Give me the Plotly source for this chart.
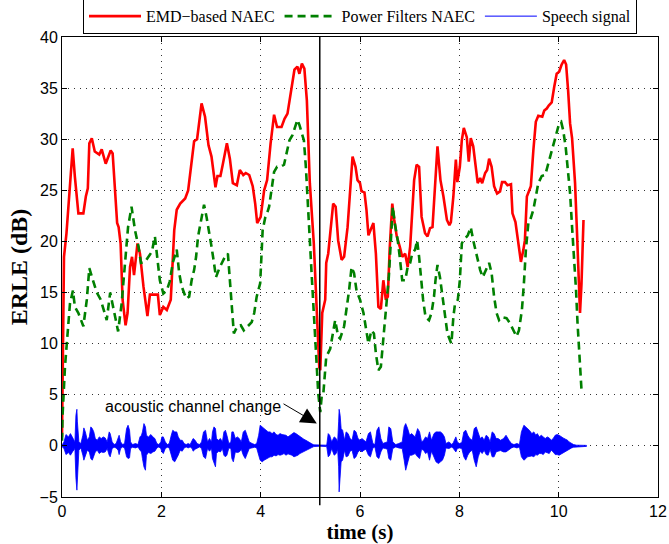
import plotly.graph_objects as go

# ---------------- data ----------------
emd_t = [0.00, 0.04, 0.09, 0.16, 0.215, 0.26, 0.33, 0.43, 0.48, 0.52, 0.55, 0.60, 0.66, 0.75, 0.80,
         0.88, 0.98, 1.02, 1.11, 1.14, 1.18, 1.22, 1.28, 1.32, 1.37, 1.41, 1.45, 1.52, 1.57, 1.64,
         1.72, 1.77, 1.87, 1.93, 1.97, 2.04, 2.11, 2.19, 2.26, 2.31, 2.38, 2.48, 2.54, 2.61, 2.66,
         2.72, 2.81, 2.88, 2.95, 3.01, 3.09, 3.13, 3.19, 3.24, 3.32, 3.38, 3.44, 3.52, 3.58, 3.65,
         3.70, 3.77, 3.84, 3.89, 3.93, 4.00, 4.07, 4.13, 4.20, 4.27, 4.33, 4.42, 4.48, 4.54, 4.62,
         4.68, 4.74, 4.78, 4.83, 4.88, 4.93, 4.99, 5.07, 5.13, 5.18, 5.20, 5.24, 5.30, 5.32, 5.36,
         5.42, 5.46, 5.51, 5.56, 5.63, 5.68, 5.75, 5.80, 5.85, 5.91, 5.95, 6.00, 6.03, 6.09, 6.13,
         6.17, 6.22, 6.27, 6.32, 6.37, 6.42, 6.47, 6.52, 6.56, 6.60, 6.65, 6.69, 6.74, 6.80, 6.85,
         6.91, 6.96, 7.01, 7.05, 7.09, 7.14, 7.19, 7.24, 7.31, 7.36, 7.41, 7.46, 7.51, 7.56, 7.62,
         7.68, 7.75, 7.80, 7.83, 7.88, 7.93, 7.96, 8.01, 8.05, 8.09, 8.15, 8.19, 8.23, 8.28, 8.33,
         8.37, 8.42, 8.46, 8.52, 8.56, 8.60, 8.65, 8.70, 8.76, 8.82, 8.86, 8.92, 8.97, 9.04, 9.07,
         9.13, 9.19, 9.24, 9.29, 9.32, 9.36, 9.40, 9.44, 9.49, 9.54, 9.59, 9.67, 9.71, 9.76, 9.80,
         9.86, 9.91, 9.96, 10.01, 10.06, 10.11, 10.15, 10.19, 10.23, 10.27, 10.33, 10.37, 10.40,
         10.43, 10.46, 10.50]
emd_erle = [0.9, 18.5, 20.8, 25.7, 29.1, 26.3, 22.75, 22.75, 24.4, 25.2, 29.6, 30.1, 28.8, 28.5, 29.0,
            27.6, 28.9, 28.6, 21.8, 21.4, 19.8, 14.3, 11.8, 13.0, 17.5, 18.5, 16.7, 19.8, 18.8, 15.6,
            12.7, 14.8, 14.8, 14.8, 12.8, 13.6, 13.3, 14.3, 21.1, 23.1, 23.7, 24.2, 25.0, 28.0, 29.8,
            30.0, 33.5, 32.2, 29.4, 28.3, 25.3, 26.4, 26.4, 27.6, 29.6, 28.1, 25.7, 25.5, 27.0, 26.5,
            26.7, 26.5, 25.4, 23.7, 21.8, 22.4, 25.0, 26.0, 29.6, 32.4, 31.2, 31.2, 32.0, 32.5, 35.1,
            36.8, 37.1, 36.4, 37.4, 36.9, 33.8, 25.7, 19.8, 13.3, 7.7, 7.4, 13.0, 14.3, 17.9, 18.8,
            21.4, 23.7, 23.4, 20.1, 18.2, 18.5, 21.4, 25.0, 28.3, 27.3, 26.0, 25.7, 24.9, 24.8, 23.1,
            20.6, 21.3, 21.8, 18.8, 13.6, 13.4, 16.2, 14.3, 14.6, 19.5, 23.7, 22.1, 20.5, 19.5, 18.5,
            18.8, 17.5, 19.5, 23.4, 26.0, 27.5, 27.3, 22.4, 20.8, 20.5, 21.3, 21.4, 25.4, 29.3, 26.0,
            24.4, 22.1, 21.6, 21.9, 24.4, 28.0, 25.8, 27.3, 29.9, 31.1, 30.2, 27.8, 30.1, 29.3, 27.3,
            25.7, 26.2, 25.7, 26.7, 27.0, 28.1, 27.3, 25.4, 24.7, 24.9, 25.8, 25.8, 25.5, 25.6, 22.75,
            21.9, 19.8, 18.0, 19.2, 20.1, 24.4, 25.0, 25.4, 28.9, 31.7, 32.3, 32.2, 32.8, 33.0, 33.3,
            33.6, 35.1, 36.4, 36.6, 37.3, 37.75, 37.3, 34.8, 31.55, 30.1, 25.7, 20.8, 17.5,
            13.0, 15.9, 22.1]

pf_t = [0.00, 0.01, 0.06, 0.11, 0.16, 0.22, 0.26, 0.33, 0.43, 0.50, 0.55, 0.63, 0.70, 0.78, 0.85,
        0.90, 0.97, 1.03, 1.09, 1.13, 1.20, 1.27, 1.33, 1.40, 1.47, 1.54, 1.59, 1.67, 1.74, 1.81,
        1.87, 1.92, 1.97, 2.04, 2.11, 2.17, 2.23, 2.31, 2.36, 2.41, 2.50, 2.56, 2.61, 2.66, 2.70,
        2.74, 2.81, 2.86, 2.91, 2.97, 3.01, 3.06, 3.10, 3.17, 3.22, 3.28, 3.34, 3.38, 3.42, 3.46,
        3.53, 3.60, 3.66, 3.75, 3.82, 3.87, 3.92, 3.99, 4.02, 4.04, 4.09, 4.13, 4.17, 4.22, 4.27,
        4.33, 4.40, 4.47, 4.52, 4.58, 4.64, 4.69, 4.74, 4.78, 4.83, 4.87, 4.91, 4.96, 4.99, 5.03,
        5.06, 5.09, 5.13, 5.16, 5.20, 5.23, 5.26, 5.32, 5.40, 5.46, 5.50, 5.56, 5.60, 5.68, 5.73,
        5.78, 5.83, 5.88, 5.93, 6.00, 6.07, 6.11, 6.17, 6.23, 6.28, 6.32, 6.37, 6.42, 6.46, 6.50,
        6.54, 6.58, 6.62, 6.66, 6.70, 6.76, 6.80, 6.85, 6.91, 6.96, 7.01, 7.05, 7.11, 7.15, 7.19,
        7.23, 7.27, 7.32, 7.39, 7.44, 7.49, 7.52, 7.56, 7.61, 7.66, 7.71, 7.76, 7.81, 7.84, 7.88,
        7.91, 7.97, 8.01, 8.05, 8.08, 8.17, 8.23, 8.28, 8.35, 8.42, 8.47, 8.53, 8.60, 8.65, 8.70,
        8.75, 8.80, 8.86, 8.95, 9.02, 9.09, 9.15, 9.20, 9.26, 9.30, 9.34, 9.39, 9.44, 9.49, 9.54,
        9.59, 9.66, 9.73, 9.79, 9.86, 9.91, 9.96, 10.01, 10.05, 10.09, 10.14, 10.18, 10.23, 10.27,
        10.31, 10.35, 10.38, 10.41, 10.44, 10.46]
pf_erle = [0.5, 2.85, 7.75, 11.3, 13.9, 15.2, 13.6, 13.0, 11.7, 14.3, 17.4, 16.1, 15.0, 14.3, 13.0,
           12.3, 15.0, 13.6, 12.1, 11.2, 13.9, 18.2, 21.4, 23.4, 21.1, 19.5, 17.9, 18.0, 18.5, 19.0,
           20.5, 18.2, 16.2, 14.9, 15.2, 16.1, 17.9, 19.2, 16.9, 15.6, 14.4, 14.6, 16.2, 17.2, 18.5,
           20.5, 22.4, 23.6, 22.4, 20.8, 19.5, 17.9, 16.5, 17.4, 17.9, 18.5, 18.8, 15.9, 13.3, 11.0,
           11.7, 11.8, 11.3, 11.7, 12.1, 13.0, 14.6, 15.9, 18.5, 21.1, 22.3, 22.75, 23.4, 25.0, 26.8,
           27.3, 27.3, 27.5, 28.6, 29.9, 30.4, 31.1, 31.9, 31.4, 30.4, 29.9, 27.3, 23.4, 20.1, 16.5,
           13.9, 11.0, 7.7, 5.1, 3.3, 4.9, 5.0, 8.7, 9.5, 11.0, 12.3, 10.7, 10.5, 11.7, 13.3,
           15.2, 17.5, 16.9, 15.2, 14.3, 13.0, 11.7, 10.0, 11.3, 11.0, 9.05, 7.4, 7.75, 9.7, 11.7,
           14.3, 16.5, 19.5, 23.4, 21.8, 20.1, 18.5, 16.2, 16.2, 17.5, 17.9, 18.8, 19.2, 20.1, 18.5,
           16.5, 14.3, 12.6, 12.3, 13.0, 14.6, 16.2, 17.7, 16.5, 14.6, 12.6, 11.0, 10.35, 10.0, 12.6,
           13.8, 14.3, 16.2, 19.8, 20.1, 20.6, 21.4, 20.1, 18.5, 17.2, 16.5, 17.2, 17.9, 16.9, 14.6,
           13.0, 12.3, 12.6, 12.5, 12.0, 11.3, 10.7, 11.3, 13.3, 15.9, 19.2, 21.8, 22.3, 23.1, 24.4,
           25.7, 26.4, 26.5, 27.6, 28.9, 29.9, 30.6, 31.55, 31.7, 30.9, 29.3, 27.0, 24.7, 21.4,
           18.5, 15.2, 12.0, 9.4, 7.4, 5.45]

# speech signal: envelope (upper / lower amplitude) read along time
speech_t = [0.00, 0.04, 0.08, 0.13, 0.17, 0.21, 0.26, 0.28, 0.30, 0.31, 0.34, 0.38, 0.42, 0.44, 0.47,
            0.51, 0.55, 0.58, 0.61, 0.64, 0.67, 0.71, 0.75, 0.79, 0.83, 0.87, 0.91, 0.95, 0.97, 1.01,
            1.05, 1.09, 1.13, 1.15, 1.18, 1.22, 1.26, 1.30, 1.33, 1.36, 1.38, 1.42, 1.48, 1.53, 1.57,
            1.60, 1.62, 1.65, 1.68, 1.70, 1.74, 1.79, 1.83, 1.87, 1.91, 1.95, 1.99, 2.01, 2.04, 2.08,
            2.12, 2.16, 2.20, 2.23, 2.27, 2.31, 2.34, 2.38, 2.42, 2.46, 2.50, 2.54, 2.58, 2.62, 2.64,
            2.68, 2.72, 2.77, 2.81, 2.85, 2.89, 2.93, 2.97, 3.01, 3.03, 3.06, 3.09, 3.11, 3.15, 3.19,
            3.23, 3.26, 3.29, 3.32, 3.36, 3.40, 3.42, 3.45, 3.49, 3.53, 3.57, 3.61, 3.65, 3.69, 3.73,
            3.77, 3.83, 3.88, 3.92, 3.96, 3.99, 4.03, 4.07, 4.11, 4.15, 4.19, 4.23, 4.27, 4.31, 4.35,
            4.39, 4.43, 4.47, 4.51, 4.55, 4.59, 4.63, 4.67, 4.71, 4.75, 4.79, 4.83, 4.87, 4.91, 4.95,
            4.99, 5.03, 5.07, 5.19, 5.33, 5.36, 5.39, 5.43, 5.48, 5.52, 5.55, 5.57, 5.58, 5.60, 5.62,
            5.65, 5.69, 5.72, 5.76, 5.80, 5.84, 5.88, 5.92, 5.96, 6.00, 6.04, 6.08, 6.12, 6.17, 6.21,
            6.26, 6.30, 6.34, 6.38, 6.42, 6.46, 6.51, 6.55, 6.58, 6.62, 6.66, 6.72, 6.78, 6.85, 6.89,
            6.92, 6.96, 7.00, 7.04, 7.07, 7.11, 7.16, 7.20, 7.24, 7.28, 7.32, 7.36, 7.40, 7.44, 7.49,
            7.53, 7.58, 7.62, 7.66, 7.70, 7.73, 7.79, 7.85, 7.88, 7.93, 7.96, 8.00, 8.05, 8.09, 8.13,
            8.17, 8.21, 8.26, 8.30, 8.34, 8.38, 8.42, 8.46, 8.50, 8.54, 8.58, 8.62, 8.66, 8.70, 8.74,
            8.78, 8.83, 8.89, 8.94, 9.00, 9.05, 9.10, 9.16, 9.21, 9.25, 9.30, 9.34, 9.37, 9.41, 9.46,
            9.50, 9.54, 9.57, 9.61, 9.65, 9.69, 9.73, 9.77, 9.81, 9.85, 9.89, 9.93, 9.97, 10.01, 10.05,
            10.09, 10.14, 10.18, 10.21, 10.26, 10.30, 10.36, 10.56]
speech_hi = [0.07, 0.39, 1.11, 0.88, 1.20, 0.78, 0.39, 2.99, 3.58, 2.35, 0.39, 0.23, 1.04, 1.76, 1.37,
             0.55, 0.88, 1.86, 1.69, 1.37, 0.72, 0.55, 0.88, 0.72, 0.88, 0.78, 0.39, 1.37, 1.20, 0.39,
             0.13, 0.23, 0.72, 1.04, 0.39, 0.13, 0.23, 1.69, 2.02, 1.53, 0.39, 0.13, 0.23, 0.13, 0.88,
             1.04, 1.37, 2.18, 1.86, 1.04, 0.88, 1.11, 0.88, 0.72, 0.23, 0.13, 0.39, 0.88, 0.88, 0.39,
             0.13, 0.23, 1.04, 1.53, 1.37, 1.37, 0.88, 0.55, 0.55, 0.23, 0.13, 0.23, 0.13, 0.55, 0.72,
             0.55, 0.23, 0.13, 0.39, 1.37, 1.53, 0.39, 0.72, 0.39, 1.37, 1.86, 1.69, 0.72, 0.55, 0.72,
             0.39, 1.37, 1.53, 1.04, 0.23, 0.39, 1.37, 1.37, 0.72, 0.88, 0.72, 0.39, 1.37, 1.53, 0.88,
             0.39, 0.23, 0.13, 0.23, 1.04, 2.02, 1.86, 1.69, 1.53, 1.37, 1.37, 1.20, 1.37, 1.11, 1.04,
             1.20, 1.11, 1.04, 1.04, 0.88, 1.04, 1.11, 1.30, 1.20, 1.04, 0.88, 0.72, 0.65, 0.55, 0.46,
             0.33, 0.20, 0.10, 0.07, 0.07, 1.20, 1.04, 0.39, 0.88, 0.72, 0.39, 2.35, 3.58, 2.99, 1.69,
             1.53, 0.55, 1.37, 1.20, 0.72, 0.55, 1.53, 1.37, 0.72, 0.55, 0.72, 0.55, 0.39, 1.20, 1.37,
             0.23, 0.13, 1.53, 1.86, 0.72, 0.23, 0.33, 0.39, 1.86, 1.69, 0.39, 0.13, 0.23, 0.39, 1.86,
             2.18, 1.69, 1.04, 1.20, 1.04, 0.88, 1.69, 1.37, 0.39, 0.55, 0.88, 0.72, 1.37, 0.55, 1.20,
             1.37, 1.37, 1.37, 1.20, 0.88, 0.23, 0.39, 0.13, 0.33, 0.88, 0.39, 0.23, 0.33, 1.37, 1.53,
             1.04, 0.72, 0.55, 1.69, 1.86, 1.20, 0.72, 0.88, 0.55, 1.04, 0.88, 0.39, 1.37, 1.20, 0.72,
             0.72, 0.55, 0.72, 1.04, 0.55, 0.23, 0.13, 0.23, 0.13, 1.37, 2.02, 1.86, 1.69, 1.53, 1.20,
             1.37, 1.04, 1.20, 0.88, 1.04, 0.88, 0.72, 0.88, 0.78, 0.55, 0.72, 1.04, 1.11, 1.04, 0.88,
             0.78, 0.65, 0.55, 0.39, 0.26, 0.13, 0.07, 0.05]
speech_lo = [-0.07, -0.26, -0.85, -0.65, -0.91, -0.59, -0.26, -3.13, -4.33, -2.87, -0.42, -0.20, -0.91, -1.40, -1.07,
             -0.42, -0.59, -1.24, -1.40, -0.98, -0.59, -0.42, -0.75, -0.59, -0.65, -0.59, -0.26, -0.91, -1.07, -0.26,
             -0.13, -0.20, -0.42, -0.85, -0.26, -0.10, -0.20, -1.07, -1.24, -1.17, -0.26, -0.13, -0.20, -0.10, -0.42,
             -0.59, -1.24, -2.05, -2.38, -0.91, -0.65, -0.75, -0.59, -0.52, -0.20, -0.10, -0.26, -0.59, -0.75, -0.26,
             -0.13, -0.20, -0.75, -1.40, -1.56, -1.24, -0.91, -0.42, -0.52, -0.20, -0.10, -0.20, -0.10, -0.26, -0.52,
             -0.33, -0.20, -0.10, -0.26, -1.07, -1.24, -0.26, -0.52, -0.26, -1.24, -1.56, -2.05, -0.75, -0.52, -0.59,
             -0.26, -0.91, -1.07, -0.91, -0.20, -0.26, -1.24, -1.56, -0.59, -0.65, -0.59, -0.33, -0.91, -1.24, -0.75,
             -0.26, -0.20, -0.13, -0.20, -0.91, -1.40, -1.56, -1.40, -1.24, -1.17, -1.07, -1.07, -0.91, -0.98, -0.85,
             -0.91, -0.85, -0.75, -0.91, -0.78, -0.85, -0.91, -1.07, -0.98, -0.91, -0.75, -0.65, -0.52, -0.46, -0.36,
             -0.26, -0.16, -0.07, -0.03, -0.07, -1.07, -0.91, -0.26, -0.91, -0.75, -0.33, -2.05, -4.50, -3.13, -1.56,
             -1.40, -0.42, -1.07, -0.98, -0.52, -0.42, -1.24, -1.07, -0.59, -0.42, -0.59, -0.42, -0.33, -0.91, -1.07,
             -0.20, -0.10, -1.07, -1.24, -0.59, -0.20, -0.26, -0.33, -1.24, -1.40, -0.26, -0.10, -0.20, -0.26, -1.40,
             -2.38, -1.56, -0.91, -0.91, -0.85, -0.75, -1.07, -1.24, -0.33, -0.42, -0.75, -0.59, -1.40, -0.52, -1.07,
             -1.56, -1.73, -1.56, -1.40, -0.91, -0.20, -0.26, -0.10, -0.26, -0.59, -0.26, -0.20, -0.26, -1.07, -1.40,
             -0.91, -0.59, -0.42, -1.40, -2.05, -1.07, -0.52, -0.75, -0.42, -0.85, -0.91, -0.33, -1.07, -1.07, -0.59,
             -0.52, -0.46, -0.59, -0.59, -0.42, -0.20, -0.10, -0.20, -0.10, -1.07, -1.40, -1.24, -1.07, -1.07, -0.98,
             -1.07, -0.85, -0.91, -0.75, -0.75, -0.85, -0.59, -0.65, -0.75, -0.42, -0.59, -0.85, -0.85, -0.91, -0.75,
             -0.65, -0.52, -0.46, -0.33, -0.20, -0.13, -0.07, -0.05]

channel_change_t = 5.19
x_ticks = [0, 2, 4, 6, 8, 10, 12]
y_ticks = [-5, 0, 5, 10, 15, 20, 25, 30, 35, 40]

# ---------------- figure ----------------
SERIF = "Liberation Serif, Times New Roman, serif"
SANS = "Liberation Sans, Arial, Helvetica, sans-serif"

fig = go.Figure()

fig.add_trace(go.Scatter(x=emd_t, y=emd_erle, mode="lines", name="EMD\u2212based NAEC",
                         line=dict(color="#ff0000", width=2.6)))
fig.add_trace(go.Scatter(x=pf_t, y=pf_erle, mode="lines", name="Power Filters NAEC",
                         line=dict(color="#008000", width=2.6, dash="8px,5px")))

# speech waveform drawn as a filled envelope
poly_x = speech_t + speech_t[::-1]
poly_y = speech_hi + speech_lo[::-1]
fig.add_trace(go.Scatter(x=poly_x, y=poly_y, mode="lines", fill="toself",
                         fillcolor="#0000ff", line=dict(color="#0000ff", width=0.8),
                         showlegend=False, hoverinfo="skip"))
# legend entry for the speech signal
fig.add_trace(go.Scatter(x=[None], y=[None], mode="lines", name="Speech signal",
                         line=dict(color="#0000ff", width=1)))

# channel change marker line
fig.add_shape(type="line", xref="x", yref="paper", x0=channel_change_t, x1=channel_change_t,
              y0=-0.018, y1=1, line=dict(color="black", width=1.5), layer="above")

# annotation
fig.add_annotation(x=4.45, y=3.9, xref="x", yref="y", text="acoustic channel change",
                   showarrow=False, xanchor="right", yanchor="middle",
                   font=dict(family=SANS, size=16, color="black"))
fig.add_annotation(x=5.13, y=2.2, xref="x", yref="y", ax=4.43, ay=4.2, axref="x", ayref="y",
                   text="", showarrow=True, arrowhead=2, arrowsize=3.2, arrowwidth=1,
                   arrowcolor="black")

axis_common = dict(showline=True, linecolor="black", linewidth=1, mirror="ticks",
                   ticks="inside", ticklen=5, tickcolor="black", tickwidth=1,
                   showgrid=True, gridcolor="#333333", gridwidth=1, griddash="1px,5px",
                   zeroline=False, automargin=False,
                   tickfont=dict(family=SANS, size=16, color="black"))

fig.update_xaxes(range=[0, 12], tickvals=x_ticks, **axis_common,
                 title=dict(text="<b>time (s)</b>", font=dict(family=SERIF, size=21, color="black"),
                            standoff=0))
fig.update_yaxes(range=[-5, 40], tickvals=y_ticks, **axis_common,
                 title=dict(text="<b>ERLE (dB)</b>", font=dict(family=SERIF, size=24, color="black"),
                            standoff=5))

fig.update_layout(
    width=669, height=544,
    margin=dict(l=62, r=11, t=37, b=47, autoexpand=False),
    paper_bgcolor="white", plot_bgcolor="white",
    showlegend=True,
    legend=dict(orientation="h", x=0.5, xanchor="center", y=1.006, yanchor="bottom",
                bordercolor="black", borderwidth=1, bgcolor="white",
                font=dict(family=SERIF, size=16, color="black"),
                itemwidth=52, tracegroupgap=0, valign="middle"),
)

fig.write_html("out.html", config={"displayModeBar": False},
               post_script="document.body.style.margin='0';")
